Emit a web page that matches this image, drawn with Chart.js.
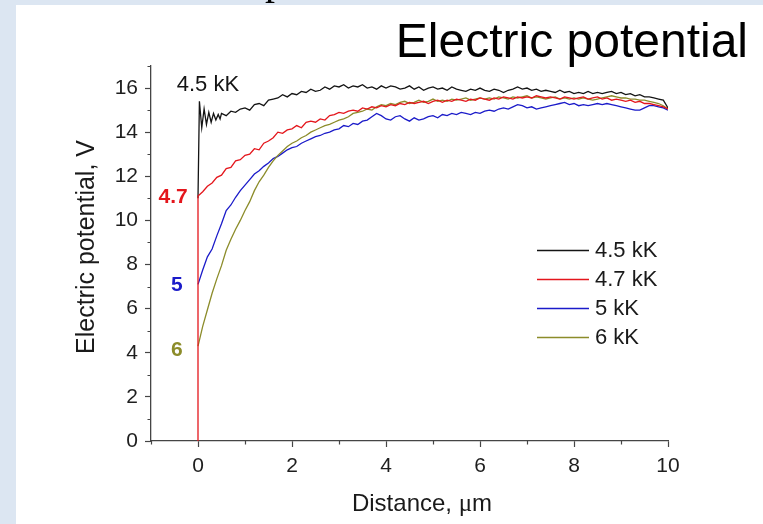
<!DOCTYPE html>
<html>
<head>
<meta charset="utf-8">
<script src="https://cdn.jsdelivr.net/npm/chart.js@4/dist/chart.umd.min.js"></script>
<style>
  html, body { margin: 0; padding: 0; background: #dce6f2; }
  #wrap { width: 763px; height: 524px; position: relative; }
  canvas { display: block; }
</style>
</head>
<body>
<div id="wrap"><canvas id="c" width="763" height="524"></canvas></div>
<script>
// Distance grid, µm
const distance = [
  0.1, 0.2, 0.3, 0.4, 0.5, 0.6, 0.7, 0.8, 0.9, 1.0,
  1.1, 1.2, 1.3, 1.4, 1.5, 1.6, 1.7, 1.8, 1.9, 2.0,
  2.1, 2.2, 2.3, 2.4, 2.5, 2.6, 2.7, 2.8, 2.9, 3.0,
  3.1, 3.2, 3.3, 3.4, 3.5, 3.6, 3.7, 3.8, 3.9, 4.0,
  4.1, 4.2, 4.3, 4.4, 4.5, 4.6, 4.7, 4.8, 4.9, 5.0,
  5.1, 5.2, 5.3, 5.4, 5.5, 5.6, 5.7, 5.8, 5.9, 6.0,
  6.1, 6.2, 6.3, 6.4, 6.5, 6.6, 6.7, 6.8, 6.9, 7.0,
  7.1, 7.2, 7.3, 7.4, 7.5, 7.6, 7.7, 7.8, 7.9, 8.0,
  8.1, 8.2, 8.3, 8.4, 8.5, 8.6, 8.7, 8.8, 8.9, 9.0,
  9.1, 9.2, 9.3, 9.4, 9.5, 9.6, 9.7, 9.8, 9.9, 10.0
];

// 4.5 kK: finer sampling of the ringing right after the wall, then the grid from 0.5 µm
const blackHeadX = [0, 0.03, 0.08, 0.13, 0.18, 0.23, 0.28, 0.33, 0.38, 0.43, 0.47];
const blackHeadY = [11.0, 15.4, 14.2, 15.05, 14.35, 14.9, 14.45, 14.85, 14.55, 14.8, 14.6];
const black = [
  14.85, 14.75, 14.95, 14.9, 15.05, 15.1,
  15.0, 15.25, 15.3, 15.2, 15.45, 15.5, 15.55, 15.7, 15.6, 15.75,
  15.7, 15.85, 15.8, 15.95, 15.85, 15.9, 16.05, 15.95, 16.1, 16.05,
  16.15, 16.0, 16.1, 16.05, 16.15, 16.0, 16.05, 15.95, 16.1, 16.0,
  16.1, 16.05, 15.95, 16.0, 16.1, 15.95, 16.05, 15.9, 16.0, 16.05,
  15.95, 16.0, 15.9, 16.05, 15.95, 15.9, 15.85, 15.95, 15.9, 16.0,
  15.9, 15.85, 15.95, 15.9, 15.8, 15.9, 15.95, 16.05, 15.95, 16.0,
  15.9, 15.95, 15.85, 15.9, 15.85, 15.8, 15.9, 15.8, 15.85, 15.75,
  15.8, 15.75, 15.85, 15.75, 15.8, 15.75, 15.8, 15.85, 15.75, 15.8,
  15.7, 15.75, 15.65, 15.7, 15.6, 15.6, 15.55, 15.5, 15.45, 15.1
];

// 4.7 kK: rises from zero along the wall, then the grid
const redStartX = [0, 0];
const redStartY = [0, 11.1];
const red = [
  11.3, 11.55, 11.7, 11.95, 12.05, 12.35, 12.4, 12.7, 12.75, 12.95,
  13.0, 13.25, 13.2, 13.5, 13.6, 13.75, 14.0, 13.95, 14.1, 14.15,
  14.3, 14.2, 14.45, 14.5, 14.45, 14.6, 14.55, 14.75, 14.8, 14.9,
  14.85, 14.95, 15.0, 14.95, 15.1, 15.05, 15.15, 15.1, 15.2, 15.15,
  15.25, 15.2, 15.3, 15.25, 15.35, 15.3, 15.35, 15.4, 15.3, 15.4,
  15.45, 15.35, 15.45, 15.4, 15.5, 15.45, 15.4, 15.5, 15.45, 15.55,
  15.5, 15.45, 15.55, 15.5, 15.6, 15.55, 15.5, 15.6, 15.55, 15.6,
  15.55, 15.65, 15.6, 15.55, 15.6, 15.55, 15.5, 15.6, 15.55, 15.5,
  15.55, 15.6, 15.5, 15.55, 15.6, 15.5, 15.55, 15.45, 15.5, 15.45,
  15.4, 15.45, 15.35, 15.4, 15.3, 15.3, 15.25, 15.2, 15.15, 15.05
];

// 5 kK
const blueStartX = [0];
const blueStartY = [7.1];
const blue = [
  7.75, 8.35, 8.7, 9.3, 9.85, 10.45, 10.7, 11.05, 11.35, 11.6,
  11.85, 12.1, 12.25, 12.45, 12.6, 12.8, 12.9, 13.05, 13.2, 13.3,
  13.35, 13.5, 13.6, 13.7, 13.8, 13.85, 13.95, 14.0, 14.1, 14.15,
  14.3, 14.25, 14.4, 14.35, 14.5, 14.55, 14.7, 14.85, 14.75, 14.6,
  14.55, 14.7, 14.75, 14.6, 14.5, 14.65, 14.55, 14.6, 14.7, 14.75,
  14.65, 14.8, 14.75, 14.85, 14.8, 14.9, 14.85, 14.8, 14.9, 14.85,
  14.95, 15.0, 14.95, 15.05, 15.1, 15.05, 15.15, 15.25, 15.2, 15.1,
  15.15, 15.05, 15.1, 15.15, 15.2, 15.25, 15.3, 15.35, 15.25, 15.3,
  15.2, 15.25, 15.2, 15.25, 15.3, 15.25, 15.3, 15.25, 15.2, 15.15,
  15.1, 15.05, 15.0, 15.0, 15.1, 15.2, 15.2, 15.15, 15.1, 15.0
];

// 6 kK
const oliveStartX = [0];
const oliveStartY = [4.3];
const olive = [
  5.2, 5.95, 6.7, 7.35, 7.95, 8.65, 9.15, 9.6, 10.0, 10.45,
  10.85, 11.35, 11.75, 12.05, 12.4, 12.7, 12.95, 13.15, 13.35, 13.5,
  13.6, 13.75, 13.85, 14.0, 14.1, 14.2, 14.3, 14.35, 14.45, 14.55,
  14.6, 14.7, 14.85, 14.9, 14.95, 15.05, 15.0, 15.15, 15.25, 15.2,
  15.3, 15.25, 15.35, 15.4, 15.3, 15.35, 15.45, 15.35, 15.4, 15.5,
  15.4, 15.45, 15.4, 15.5, 15.45, 15.5, 15.55, 15.45, 15.5, 15.55,
  15.5, 15.55, 15.5, 15.6, 15.55, 15.5, 15.6, 15.55, 15.6, 15.65,
  15.55, 15.6, 15.55, 15.5, 15.55, 15.6, 15.5, 15.55, 15.5, 15.55,
  15.5, 15.55, 15.5, 15.45, 15.5, 15.55, 15.6, 15.65, 15.6, 15.55,
  15.55, 15.5, 15.5, 15.45, 15.45, 15.4, 15.35, 15.3, 15.2, 15.05
];

const seriesNames = ['4.5 kK', '4.7 kK', '5 kK', '6 kK'];
const seriesColors = ['#141414', '#e4161c', '#1b1bc9', '#8c8c2a'];

// Temperature tags written beside the starting points of the curves
const tagText = ['4.5 kK', '4.7', '5', '6'];
const tagX = [0.21, -0.53, -0.45, -0.45];
const tagY = [16.14, 11.06, 7.07, 4.13];

const xTickLabels = [0, 2, 4, 6, 8, 10];
const yTickLabels = [0, 2, 4, 6, 8, 10, 12, 14, 16];

function points(xs, ys) {
  return xs.map((x, i) => ({ x: x, y: ys[i] }));
}

const AXIS = '#454545';
const FONT = "'Liberation Sans', Arial, sans-serif";
const SERIF = "'Liberation Serif', 'Times New Roman', serif";

const backgroundPlugin = {
  id: 'slideBackground',
  beforeDraw(chart) {
    const ctx = chart.ctx;
    ctx.save();
    ctx.fillStyle = '#dce6f2';
    ctx.fillRect(0, 0, chart.width, chart.height);
    ctx.fillStyle = '#ffffff';
    ctx.fillRect(16, 5, chart.width - 16, chart.height - 5);
    ctx.restore();
  }
};

// Shorter minor ticks on odd values
const minorTickPlugin = {
  id: 'minorTicks',
  afterDraw(chart) {
    const ctx = chart.ctx;
    const xs = chart.scales.x, ys = chart.scales.y;
    ctx.save();
    ctx.strokeStyle = AXIS;
    ctx.lineWidth = 1.2;
    ctx.beginPath();
    xs.ticks.forEach(t => {
      if (Math.abs(t.value % 2) === 1) {
        const px = Math.round(xs.getPixelForValue(t.value)) + 0.5;
        ctx.moveTo(px, ys.bottom);
        ctx.lineTo(px, ys.bottom + 3.5);
      }
    });
    ys.ticks.forEach(t => {
      if (Math.abs(t.value % 2) === 1) {
        const py = Math.round(ys.getPixelForValue(t.value)) + 0.5;
        ctx.moveTo(xs.left, py);
        ctx.lineTo(xs.left - 3.5, py);
      }
    });
    ctx.stroke();
    ctx.restore();
  }
};

const textPlugin = {
  id: 'chartTexts',
  afterDraw(chart) {
    const ctx = chart.ctx;
    const xs = chart.scales.x, ys = chart.scales.y;
    ctx.save();
    // heading of the slide above, mostly outside the frame
    ctx.fillStyle = '#000';
    ctx.font = '40px ' + SERIF;
    ctx.textAlign = 'left';
    ctx.textBaseline = 'alphabetic';
    ctx.fillText('p', 265, -6);

    // chart heading
    ctx.font = '48px ' + FONT;
    ctx.textAlign = 'right';
    ctx.fillText('Electric potential', 748, 57);

    // axis titles
    ctx.fillStyle = '#1a1a1a';
    ctx.textBaseline = 'alphabetic';
    ctx.textAlign = 'left';
    const partA = 'Distance, ', partMu = '\u03bc', partB = 'm';
    ctx.font = '24px ' + FONT;
    const wA = ctx.measureText(partA).width, wB = ctx.measureText(partB).width;
    ctx.font = '25px ' + SERIF;
    const wMu = ctx.measureText(partMu).width;
    let tx = 422 - (wA + wMu + wB) / 2;
    ctx.font = '24px ' + FONT;
    ctx.fillText(partA, tx, 511);
    ctx.font = '25px ' + SERIF;
    ctx.fillText(partMu, tx + wA, 511);
    ctx.font = '24px ' + FONT;
    ctx.fillText(partB, tx + wA + wMu, 511);

    ctx.save();
    ctx.translate(94, 247);
    ctx.rotate(-Math.PI / 2);
    ctx.textAlign = 'center';
    ctx.font = '25px ' + FONT;
    ctx.fillText('Electric potential, V', 0, 0);
    ctx.restore();

    // temperature tags
    ctx.textAlign = 'center';
    ctx.textBaseline = 'middle';
    tagText.forEach((t, i) => {
      ctx.font = (i === 0 ? '' : 'bold ') + (i === 0 ? '22px ' : '21px ') + FONT;
      ctx.fillStyle = seriesColors[i];
      ctx.fillText(t, xs.getPixelForValue(tagX[i]), ys.getPixelForValue(tagY[i]));
    });

    // legend
    const rows = [250, 279, 308, 337];
    ctx.textAlign = 'left';
    ctx.font = '22px ' + FONT;
    seriesNames.forEach((name, i) => {
      ctx.strokeStyle = seriesColors[i];
      ctx.lineWidth = 1.5;
      ctx.beginPath();
      ctx.moveTo(537, rows[i] + 0.5);
      ctx.lineTo(589, rows[i] + 0.5);
      ctx.stroke();
      ctx.fillStyle = '#1a1a1a';
      ctx.fillText(name, 595, rows[i] + 1);
    });
    ctx.restore();
  }
};

const lineStyle = { borderWidth: 1.3, pointRadius: 0, tension: 0, fill: false };

new Chart(document.getElementById('c'), {
  type: 'line',
  data: {
    datasets: [
      Object.assign({ label: seriesNames[0], borderColor: seriesColors[0], order: 3,
        data: points(blackHeadX.concat(distance.slice(4)), blackHeadY.concat(black)) }, lineStyle),
      Object.assign({ label: seriesNames[1], borderColor: seriesColors[1], order: 0,
        data: points(redStartX.concat(distance), redStartY.concat(red)) }, lineStyle),
      Object.assign({ label: seriesNames[2], borderColor: seriesColors[2], order: 2,
        data: points(blueStartX.concat(distance), blueStartY.concat(blue)) }, lineStyle),
      Object.assign({ label: seriesNames[3], borderColor: seriesColors[3], order: 1,
        data: points(oliveStartX.concat(distance), oliveStartY.concat(olive)) }, lineStyle)
    ]
  },
  options: {
    responsive: false,
    animation: false,
    devicePixelRatio: 1,
    layout: { padding: { left: 16, top: 66, right: 95, bottom: 0 } },
    plugins: { legend: { display: false }, tooltip: { enabled: false }, title: { display: false } },
    scales: {
      x: {
        type: 'linear', min: -1, max: 10,
        afterFit(s) { s.height = 83; },
        ticks: {
          stepSize: 1, autoSkip: false, maxRotation: 0, padding: 7,
          color: '#1e1e1e', font: { family: FONT, size: 21 },
          callback: v => xTickLabels.includes(v) ? String(v) : ''
        },
        grid: {
          drawOnChartArea: false, drawTicks: true, tickLength: 6, tickWidth: 1.2,
          tickColor: c => (c.tick && Math.abs(c.tick.value % 2) === 1) ? 'rgba(0,0,0,0)' : AXIS
        },
        border: { color: AXIS, width: 1.3 },
        title: { display: false }
      },
      y: {
        type: 'linear', min: 0, max: 17,
        afterFit(s) { s.width = 135; },
        ticks: {
          stepSize: 1, autoSkip: false, padding: 7,
          color: '#1e1e1e', font: { family: FONT, size: 21 },
          callback: v => yTickLabels.includes(v) ? String(v) : ''
        },
        grid: {
          drawOnChartArea: false, drawTicks: true, tickLength: 6, tickWidth: 1.2,
          tickColor: c => (c.tick && Math.abs(c.tick.value % 2) === 1) ? 'rgba(0,0,0,0)' : AXIS
        },
        border: { color: AXIS, width: 1.3 },
        title: { display: false }
      }
    }
  },
  plugins: [backgroundPlugin, minorTickPlugin, textPlugin]
});
</script>
</body>
</html>
